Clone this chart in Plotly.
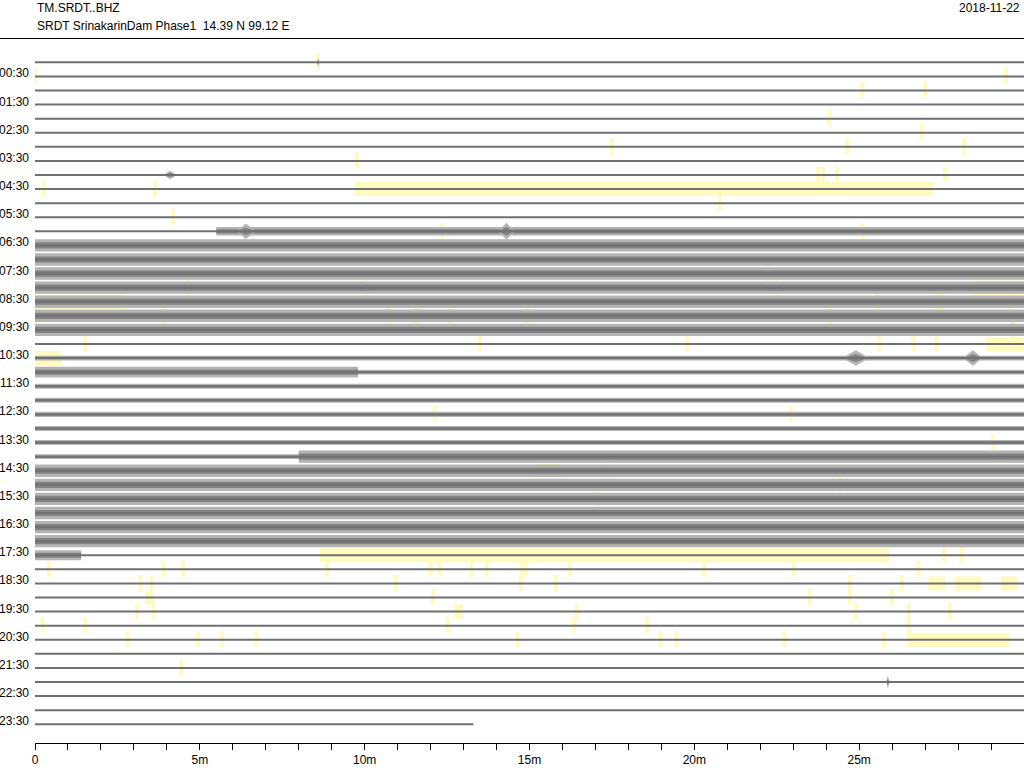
import plotly.graph_objects as go

# ---------------- data ----------------
n_traces = 48
trace_start_labels = [f"{h:02d}:{m:02d}" for h in range(24) for m in (0, 30)]
trace_end_min = [30.0] * 47 + [13.3]

# base half-amplitude of each 30-minute line (in units of line spacing)
base_amp = ([0.08] * 12 + [0.30] + [0.44] * 7 + [0.08, 0.17, 0.17] + [0.18] * 5
            + [0.44] * 7 + [0.10] * 12 + [0.09])

# (trace, start_min, end_min, half_amp) segments that differ from the base level
amp_segments = [
    (12, 0.0, 5.5, 0.12),
    (22, 0.0, 9.8, 0.38),
    (28, 0.0, 8.0, 0.17),
    (35, 0.0, 1.4, 0.35),
]

# short wave packets: (trace, minute, half_amp, duration_min)
events = [
    (0, 8.59, 0.35, 0.06),
    (8, 4.10, 0.30, 0.4),
    (12, 6.40, 0.55, 0.6),
    (12, 14.30, 0.60, 0.5),
    (21, 24.90, 0.55, 0.8),
    (21, 28.45, 0.55, 0.6),
    (44, 25.87, 0.45, 0.1),
]

# highlighted (yellow) spans: (trace, start_min, end_min)
yellow_blocks = [
    (9, 9.70, 27.25), (16, 28.40, 30.0), (17, 0.0, 2.73), (20, 28.85, 30.0),
    (21, 0.0, 0.80), (29, 15.17, 15.96), (35, 8.65, 25.91), (37, 27.10, 27.60),
    (37, 27.90, 28.70), (37, 29.30, 29.80), (38, 3.35, 3.60), (39, 12.70, 12.98),
    (41, 26.46, 29.58),
]
# narrow highlights: trace -> minutes
yellow_ticks = {
    0: [8.59], 1: [0.02, 29.45], 2: [25.1, 27.0], 4: [24.1], 5: [26.9],
    6: [17.5, 24.64, 28.19], 7: [9.77], 8: [23.75, 23.9, 24.33, 27.6],
    9: [0.27, 3.64], 10: [20.78], 11: [4.19], 12: [12.35, 25.1], 15: [22.24],
    16: [4.64, 10.05, 22.5], 17: [25.55, 27.37, 27.49, 29.58],
    18: [0.03, 3.89, 10.74, 11.53, 11.62, 12.6, 14.93, 24.12], 19: [29.67],
    20: [1.52, 13.5, 19.78, 25.6, 26.64, 27.34], 25: [12.12, 22.93], 27: [29.04],
    29: [17.35], 30: [24.42], 31: [17.08], 35: [27.58, 28.1],
    36: [0.42, 3.9, 4.5, 8.86, 12.0, 12.27, 13.25, 13.7, 14.76, 14.9, 16.23, 20.3, 23.03, 26.8],
    37: [3.2, 3.54, 10.93, 14.74, 15.8, 24.72, 26.3],
    38: [12.07, 23.5, 24.7, 26.0],
    39: [3.1, 3.6, 16.43, 24.9, 26.5, 27.75],
    40: [0.23, 1.52, 12.52, 16.35, 18.57, 26.5],
    41: [2.8, 4.95, 5.68, 6.71, 14.64, 18.97, 19.46, 22.73, 25.75],
    43: [4.43],
}

x_tick_vals = [0, 5, 10, 15, 20, 25]
x_tick_text = ["0", "5m", "10m", "15m", "20m", "25m"]

station = "TM.SRDT..BHZ"
site = "SRDT SrinakarinDam Phase1  14.39 N 99.12 E"
date = "2018-11-22"

# ---------------- styles ----------------
GRAY = "#707070"
GRAY_CORE = "#828282"
GRAY_OUT = "#b4b4b4"
YELLOW = "#fffbbf"
FONT = "Liberation Sans, Arial, sans-serif"


def pieces(i):
    end = trace_end_min[i]
    over = sorted([(s, e, a) for (t, s, e, a) in amp_segments if t == i])
    out, cur = [], 0.0
    for s, e, a in over:
        if s > cur:
            out.append((cur, s, base_amp[i]))
        out.append((s, min(e, end), a))
        cur = e
    if cur < end:
        out.append((cur, end, base_amp[i]))
    return out


def rect(xs, ys, x0, x1, y0, y1):
    xs += [x0, x1, x1, x0, x0, None]
    ys += [y0, y0, y1, y1, y0, None]


fig = go.Figure()

# yellow highlights
yx, yy = [], []
for t, s, e in yellow_blocks:
    rect(yx, yy, s, e, t - 0.5, t + 0.5)
for t, mins in yellow_ticks.items():
    for m in mins:
        rect(yx, yy, m - 0.06, m + 0.06, t - 0.6, t + 0.52)
fig.add_trace(go.Scatter(x=yx, y=yy, mode="none", fill="toself", fillcolor=YELLOW,
                         hoverinfo="skip", showlegend=False))

# amplitude bands
ox, oy, cx, cy = [], [], [], []
for i in range(n_traces):
    for s, e, a in pieces(i):
        if a > 0.12:
            rect(ox, oy, s, e, i - a, i + a)
            rect(cx, cy, s, e, i - 0.5 * a, i + 0.5 * a)
ex, ey, ecx, ecy = [], [], [], []
for t, m, a, d in events:
    ex += [m - d / 2, m, m + d / 2, m, m - d / 2, None]
    ey += [t, t - a, t, t + a, t, None]
    ecx += [m - d / 2, m, m + d / 2, m, m - d / 2, None]
    ecy += [t, t - a * 0.5, t, t + a * 0.5, t, None]

fig.add_trace(go.Scatter(x=ox, y=oy, mode="none", fill="toself", fillcolor=GRAY_OUT,
                         hoverinfo="skip", showlegend=False))
fig.add_trace(go.Scatter(x=cx, y=cy, mode="none", fill="toself", fillcolor=GRAY_CORE,
                         hoverinfo="skip", showlegend=False))
fig.add_trace(go.Scatter(x=ex, y=ey, mode="none", fill="toself", fillcolor=GRAY_OUT,
                         hoverinfo="skip", showlegend=False))
fig.add_trace(go.Scatter(x=ecx, y=ecy, mode="none", fill="toself", fillcolor=GRAY_CORE,
                         hoverinfo="skip", showlegend=False))

# centre lines
lx, ly = [], []
for i in range(n_traces):
    lx += [0, trace_end_min[i], None]
    ly += [i, i, None]
fig.add_trace(go.Scatter(x=lx, y=ly, mode="lines", line=dict(color=GRAY, width=2),
                         hoverinfo="skip", showlegend=False))

annotations = []
for i in range(1, n_traces, 2):
    annotations.append(dict(x=0, xref="paper", y=i, yref="y", text=trace_start_labels[i],
                            showarrow=False, xanchor="right", yanchor="middle",
                            xshift=-4, yshift=3, font=dict(family=FONT, size=12, color="black")))

top_px, bot_px = 40, 743
ph = bot_px - top_px


def py(pix):
    return (bot_px - pix) / ph


def px(pix):
    return (pix - 35) / 989


annotations += [
    dict(x=px(35), xref="paper", y=py(8), yref="paper", text=station, showarrow=False,
         xanchor="left", yanchor="middle", font=dict(family=FONT, size=12, color="black")),
    dict(x=px(35), xref="paper", y=py(26), yref="paper", text=site, showarrow=False,
         xanchor="left", yanchor="middle", font=dict(family=FONT, size=12, color="black")),
    dict(x=px(1022), xref="paper", y=py(8), yref="paper", text=date, showarrow=False,
         xanchor="right", yanchor="middle", font=dict(family=FONT, size=12, color="black")),
]

fig.update_layout(
    width=1024, height=768,
    margin=dict(l=35, r=0, t=top_px, b=768 - bot_px, pad=0),
    plot_bgcolor="white", paper_bgcolor="white",
    annotations=annotations,
    shapes=[dict(type="line", xref="paper", yref="paper", x0=px(0), x1=px(1024),
                 y0=py(38.5), y1=py(38.5), line=dict(color="black", width=1))],
    xaxis=dict(range=[0, 30], showgrid=False, zeroline=False, showline=True,
               linecolor="black", linewidth=1, ticks="outside", ticklen=6,
               tickcolor="black", tickvals=x_tick_vals, ticktext=x_tick_text,
               tickfont=dict(family=FONT, size=12, color="black"),
               minor=dict(dtick=1, tick0=0, ticks="outside", ticklen=6, tickcolor="black")),
    yaxis=dict(range=[48.33, -1.583], showgrid=False, zeroline=False, showline=False,
               showticklabels=False, ticks=""),
)

fig.write_html("out.html", config={"displayModeBar": False},
               post_script="document.body.style.margin='0';document.body.style.overflow='hidden';")
